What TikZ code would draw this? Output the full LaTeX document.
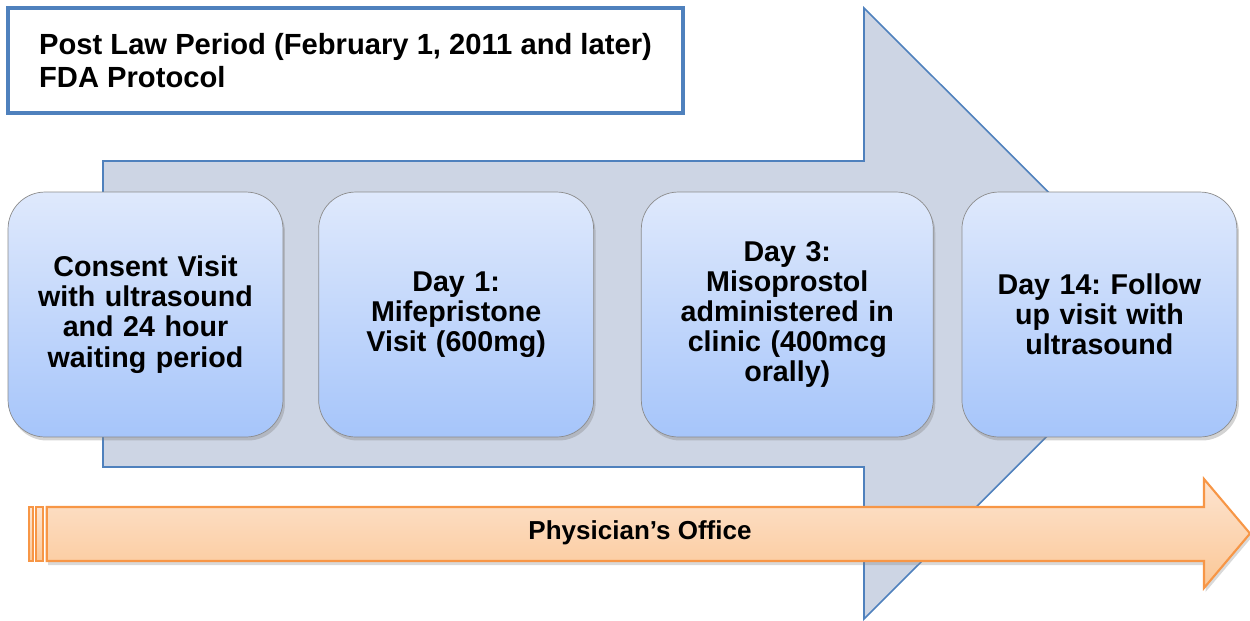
\documentclass[tikz,border=0pt]{standalone}
\usepackage{fontspec}
\setmainfont{Liberation Sans}
\usepackage{tikz}
\usetikzlibrary{positioning,shadows}
\definecolor{arrowfill}{HTML}{CDD5E4}
\definecolor{arrowline}{HTML}{4F81BD}
\definecolor{boxtop}{HTML}{DFE9FC}
\definecolor{boxbot}{HTML}{A6C5FA}
\definecolor{officetop}{HTML}{FDE4D0}
\definecolor{officebot}{HTML}{FBC796}
\definecolor{officeline}{HTML}{F79646}
\frenchspacing

\begin{document}
\begin{tikzpicture}[x=0.02cm,y=-0.02cm,
  stepbox/.style={draw=gray!90,rounded corners=0.74cm,minimum width=5.5cm,
    minimum height=4.9cm,text width=5.1cm,align=center,
    top color=boxtop,bottom color=boxbot,
    font=\fontsize{16.3}{17.2}\selectfont\bfseries,
    drop shadow={shadow xshift=0.04cm,shadow yshift=-0.07cm,opacity=0.35}},
  titlebox/.style={draw=arrowline,line width=2pt,fill=white,
    minimum width=13.5cm,minimum height=2.1cm,align=left,
    font=\fontsize{16.6}{18.8}\selectfont\bfseries},
  office/.style={draw=officeline,line width=1.2pt,top color=officetop,
    bottom color=officebot},
  bigarrow/.style={draw=arrowline,line width=0.9pt,fill=arrowfill}]
  \useasboundingbox (0,0) rectangle (1250,620);
  % timeline arrow behind the visits
  \path[bigarrow] (103,161) -- (864,161) -- (864,8) -- (1170,313.5)
    -- (864,619) -- (864,467) -- (103,467) -- cycle;
  % visits
  \node[stepbox] (consent) at (145.5,314.5)
    {Consent Visit\\with ultrasound\\and 24 hour\\waiting period};
  \node[stepbox,right=0.7cm of consent] (mife)
    {Day 1:\\Mifepristone\\Visit (600mg)};
  \node[stepbox,minimum width=5.84cm,text width=5.4cm,right=0.94cm of mife] (miso)
    {Day 3:\\Misoprostol\\administered in\\clinic (400mcg\\orally)};
  \node[stepbox,right=0.56cm of miso] (followup)
    {Day 14: Follow\\up visit with\\ultrasound};
  % office bar
  \path[office,drop shadow={shadow xshift=0.03cm,shadow yshift=-0.08cm,opacity=0.3}]
    (46.7,507) -- (1204,507) -- (1204,479) -- (1250,533.5) -- (1204,588)
    -- (1204,561) -- (46.7,561) -- cycle;
  \path[office] (29,507) rectangle (33,561);
  \path[office] (36,507) rectangle (43,561);
  \node[font=\fontsize{14.8}{16}\selectfont\bfseries] (place) at (640,533)
    {Physician’s Office};
  % heading
  \node[titlebox] (period) at (345.5,60.5)
    {Post Law Period (February 1, 2011 and later)\\FDA Protocol};
\end{tikzpicture}
\end{document}
